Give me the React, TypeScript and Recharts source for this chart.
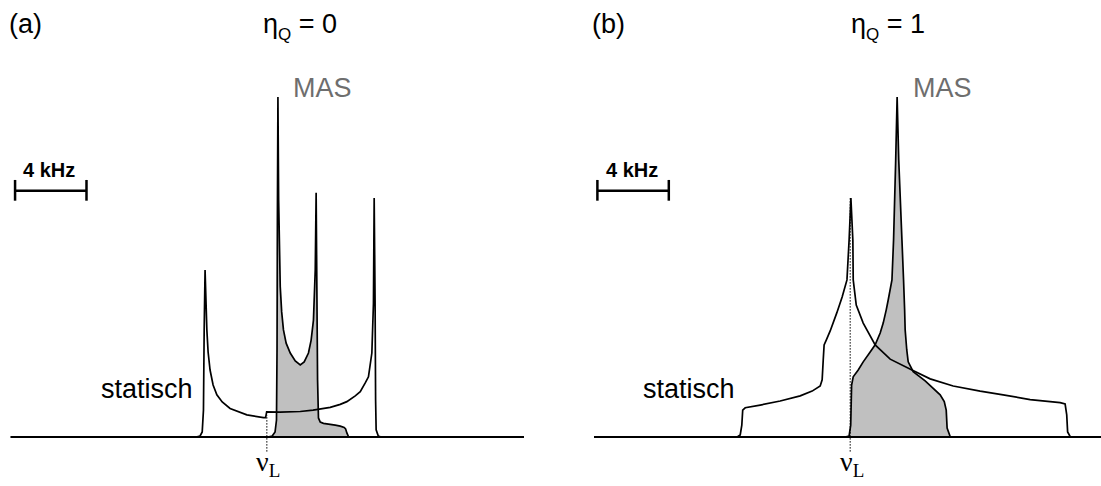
import React from "react";
import { ComposedChart, Line, Area, XAxis, YAxis, ReferenceLine } from "recharts";

// Frequency offsets from the Larmor frequency (kHz) and intensities (MAS peak = 100)
// Panel (a): eta_Q = 0
const STAT_A_X = [-14.35, -3.96, -3.74, -3.62, -3.55, -3.51, -3.46, -3.41, -3.36, -3.29, -3.18, -3.01, -2.8, -2.5, -2.06, -1.12, -0.19, -0.07, -0.01, 0.75, 1.87, 2.59, 3.55, 4.11, 4.48, 4.95, 5.23, 5.51, 5.69, 5.88, 5.97, 6.01, 6.06, 6.09, 6.12, 6.24, 6.4, 14.4];
const STAT_A_Y = [0, 0, 0.3, 1.5, 7.9, 31.5, 49.1, 40.3, 31.5, 25.0, 19.7, 15.3, 12.4, 10.3, 8.4, 6.5, 5.7, 5.7, 7.4, 7.3, 7.5, 7.9, 8.7, 9.6, 10.4, 12.1, 13.3, 15.9, 17.7, 24.7, 39.4, 70.3, 40.3, 10.9, 2.1, 0.3, 0, 0];
const MAS_A_X = [-14.35, 0.07, 0.3, 0.46, 0.54, 0.57, 0.59, 0.62, 0.66, 0.75, 0.83, 0.93, 1.08, 1.31, 1.59, 1.87, 2.09, 2.33, 2.48, 2.61, 2.71, 2.76, 2.8, 2.84, 2.89, 2.99, 3.17, 3.83, 4.11, 4.33, 4.41, 4.48, 4.57, 4.72, 14.4];
const MAS_A_Y = [0, 0, 0.3, 1.5, 5.0, 25.6, 63.8, 100, 69.7, 44.2, 36.8, 31.5, 27.6, 24.7, 22.4, 21.2, 22.1, 24.7, 28.5, 34.4, 49.1, 71.8, 44.2, 16.8, 5.6, 4.4, 4.0, 3.5, 3.2, 2.8, 2.4, 1.2, 0.15, 0, 0];

// Panel (b): eta_Q = 1
const STAT_B_X = [-14.35, -6.33, -6.16, -6.07, -6.02, -5.88, -5.04, -3.92, -2.8, -2.13, -1.68, -1.57, -1.51, -1.46, -1.34, -1.12, -0.75, -0.45, -0.18, -0.06, 0.04, 0.15, 0.17, 0.34, 0.73, 1.4, 2.24, 3.46, 4.48, 5.77, 7.28, 8.57, 10.08, 11.76, 12.04, 12.13, 12.18, 12.32, 12.49, 14.05];
const STAT_B_Y = [0, 0, 0.6, 3.5, 7.9, 8.6, 9.4, 10.6, 12.1, 13.5, 15.0, 16.8, 22.6, 27.1, 28.5, 31.2, 36.5, 41.2, 46.2, 57.9, 70.3, 57.9, 46.2, 38.8, 33.5, 27.1, 22.9, 19.7, 17.1, 15.0, 13.5, 12.4, 11.0, 10.1, 9.7, 6.5, 1.5, 0.15, 0, 0];
const MAS_B_X = [-14.35, -0.28, -0.06, 0.03, 0.08, 0.17, 0.45, 0.73, 1.12, 1.4, 1.68, 1.85, 2.02, 2.13, 2.34, 2.43, 2.55, 2.63, 2.72, 2.9, 2.99, 3.05, 3.08, 3.17, 3.25, 3.53, 4.2, 5.04, 5.27, 5.38, 5.43, 5.6, 5.83, 14.05];
const MAS_B_Y = [0, 0, 0.3, 3.5, 15.3, 17.7, 19.7, 22.1, 25.0, 27.1, 30.6, 33.5, 37.4, 40.3, 46.2, 57.9, 81.5, 100, 81.5, 57.9, 46.2, 37.4, 31.5, 25.6, 22.1, 19.2, 16.5, 12.4, 10.4, 7.9, 2.6, 0.15, 0, 0];

// Labels
const PANEL_LABELS = ["(a)", "(b)"];
const ETA_VALUES = ["0", "1"];
const SCALE_BAR_KHZ = 4;
const SCALE_BAR_LABEL = "4 kHz";
const SCALE_BAR_START = [-14.1, -14.16];
const SCALE_BAR_LEVEL = 72.4;
const NU_L_TOP = [6.5, 70.3];

function buildRows(mx: number[], my: number[], sx: number[], sy: number[]) {
  const rows: any[] = [];
  mx.forEach((x, i) => rows.push({ x, mas: my[i] }));
  sx.forEach((x, i) => rows.push({ x, stat: sy[i] }));
  rows.sort((a, b) => a.x - b.x);
  return rows;
}

const SANS = "'Liberation Sans', Arial, Helvetica, sans-serif";
const SERIF = "'Liberation Serif', 'Times New Roman', serif";

function Panel(props: {
  left: number; width: number; margin: any; domain: [number, number]; rows: any[]; idx: number;
}) {
  const { left, width, margin, domain, rows, idx } = props;
  const sb = SCALE_BAR_START[idx];
  return (
    <div style={{ position: "absolute", left, top: 0 }}>
      <ComposedChart width={width} height={486} data={rows} margin={margin}>
        <XAxis type="number" dataKey="x" domain={domain} hide allowDataOverflow />
        <YAxis type="number" domain={[-10, 110]} hide allowDataOverflow />
        <ReferenceLine y={0} stroke="#000" strokeWidth={2} />
        <Area
          type="linear"
          dataKey="mas"
          connectNulls
          baseValue={0}
          stroke="#000"
          strokeWidth={1.7}
          fill="#c0c0c0"
          fillOpacity={1}
          dot={false}
          activeDot={false}
          isAnimationActive={false}
        />
        <Line
          type="linear"
          dataKey="stat"
          connectNulls
          stroke="#000"
          strokeWidth={1.7}
          dot={false}
          activeDot={false}
          isAnimationActive={false}
        />
        <ReferenceLine
          segment={[{ x: 0, y: -4.3 }, { x: 0, y: NU_L_TOP[idx] }]}
          stroke="#000"
          strokeWidth={1}
          strokeDasharray="1.5 1.5"
          ifOverflow="visible"
        />
        <ReferenceLine
          segment={[{ x: sb, y: SCALE_BAR_LEVEL }, { x: sb + SCALE_BAR_KHZ, y: SCALE_BAR_LEVEL }]}
          stroke="#000"
          strokeWidth={2.5}
          ifOverflow="visible"
        />
        <ReferenceLine
          segment={[{ x: sb, y: 69.5 }, { x: sb, y: 75.6 }]}
          stroke="#000"
          strokeWidth={2.5}
          ifOverflow="visible"
        />
        <ReferenceLine
          segment={[{ x: sb + SCALE_BAR_KHZ, y: 69.5 }, { x: sb + SCALE_BAR_KHZ, y: 75.6 }]}
          stroke="#000"
          strokeWidth={2.5}
          ifOverflow="visible"
        />
      </ComposedChart>
    </div>
  );
}

function Texts(props: { dx: number; idx: number; etaX: number; masX: number; statX: number; scaleX: number; nuX: number }) {
  const { dx, idx, etaX, masX, statX, scaleX, nuX } = props;
  return (
    <g>
      <text x={dx} y={33} fontFamily={SANS} fontSize={27} fill="#000">{PANEL_LABELS[idx]}</text>
      <text x={etaX} y={33} fontFamily={SANS} fontSize={27} fill="#000">
        η<tspan fontSize={17} dy={7}>Q</tspan><tspan dy={-7}>{" = " + ETA_VALUES[idx]}</tspan>
      </text>
      <text x={masX} y={97} fontFamily={SANS} fontSize={27} fill="#6e6e6e">MAS</text>
      <text x={statX} y={398} fontFamily={SANS} fontSize={27} fill="#000">statisch</text>
      <text x={scaleX} y={177} fontFamily={SANS} fontSize={20} fontWeight="bold" fill="#000">{SCALE_BAR_LABEL}</text>
      <text x={nuX} y={471} fontFamily={SERIF} fontSize={28} fill="#000">
        ν<tspan fontSize={19} dy={6}>L</tspan>
      </text>
    </g>
  );
}

export default function App() {
  const rowsA = buildRows(MAS_A_X, MAS_A_Y, STAT_A_X, STAT_A_Y);
  const rowsB = buildRows(MAS_B_X, MAS_B_Y, STAT_B_X, STAT_B_Y);
  return (
    <div style={{ position: "absolute", left: 0, top: 0, width: 1101, height: 486, background: "#fff", overflow: "hidden" }}>
      <Panel left={0} width={550} margin={{ top: 63, right: 26, bottom: 15, left: 10.6 }} domain={[-14.35, 14.4]} rows={rowsA} idx={0} />
      <Panel left={550} width={551} margin={{ top: 63, right: 0, bottom: 15, left: 44 }} domain={[-14.35, 14.05]} rows={rowsB} idx={1} />
      <svg width={1101} height={486} style={{ position: "absolute", left: 0, top: 0, pointerEvents: "none" }}>
        <Texts dx={9} idx={0} etaX={263} masX={293} statX={101} scaleX={23} nuX={256} />
        <Texts dx={592} idx={1} etaX={851} masX={913} statX={643} scaleX={606} nuX={840} />
      </svg>
    </div>
  );
}
